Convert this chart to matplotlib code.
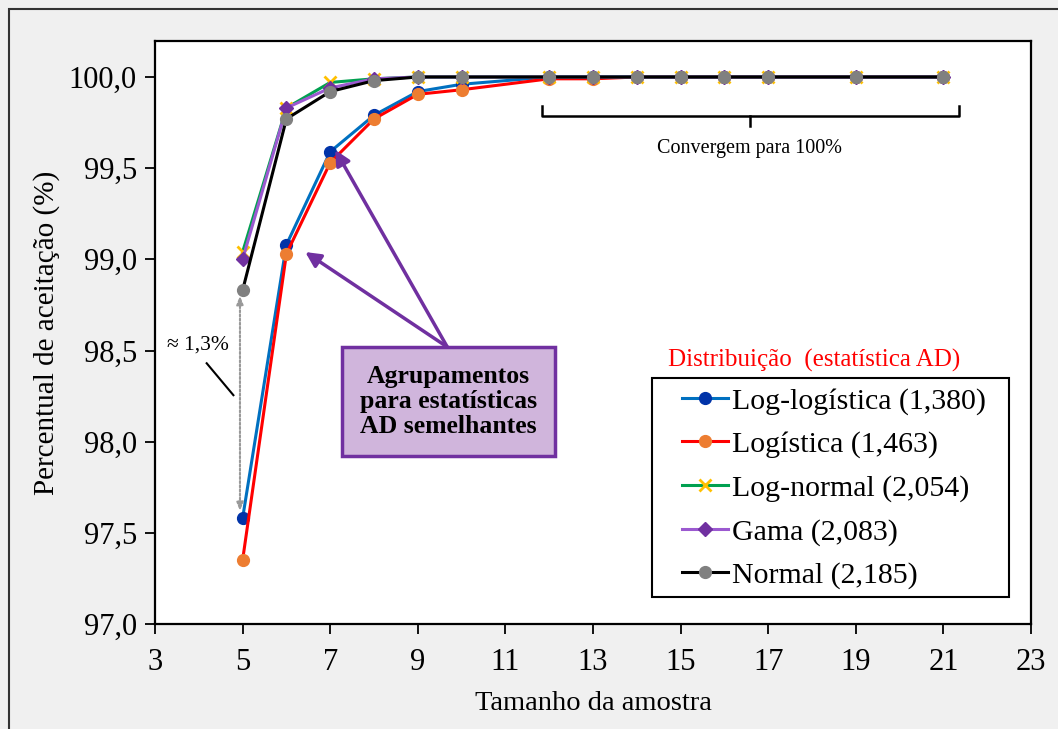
import matplotlib
matplotlib.use("Agg")
import matplotlib.pyplot as plt
from matplotlib.patches import Rectangle

plt.rcParams["font.family"] = ["Liberation Serif", "DejaVu Serif"]

# data
sample_size = [5, 6, 7, 8, 9, 10, 12, 13, 14, 15, 16, 17, 19, 21]
log_logistica = [97.58, 99.08, 99.59, 99.79, 99.92, 99.96, 100.0, 100.0, 100.0, 100.0, 100.0, 100.0, 100.0, 100.0]
logistica = [97.35, 99.03, 99.53, 99.77, 99.905, 99.93, 99.99, 99.99, 100.0, 100.0, 100.0, 100.0, 100.0, 100.0]
log_normal = [99.04, 99.83, 99.97, 99.99, 100.0, 100.0, 100.0, 100.0, 100.0, 100.0, 100.0, 100.0, 100.0, 100.0]
gama = [99.00, 99.83, 99.94, 99.99, 100.0, 100.0, 100.0, 100.0, 100.0, 100.0, 100.0, 100.0, 100.0, 100.0]
normal = [98.83, 99.77, 99.92, 99.98, 100.0, 100.0, 100.0, 100.0, 100.0, 100.0, 100.0, 100.0, 100.0, 100.0]

series_labels = ["Log-logística (1,380)", "Logística (1,463)", "Log-normal (2,054)",
                 "Gama (2,083)", "Normal (2,185)"]

x_ticks = [3, 5, 7, 9, 11, 13, 15, 17, 19, 21, 23]
y_ticks = [97.0, 97.5, 98.0, 98.5, 99.0, 99.5, 100.0]
y_ticklabels = ["97,0", "97,5", "98,0", "98,5", "99,0", "99,5", "100,0"]

fig = plt.figure(figsize=(10.58, 7.29), dpi=100, facecolor="#F0F0F0")
fig.subplots_adjust(left=0.1465, right=0.9745, top=0.9438, bottom=0.144)
ax = fig.add_subplot(1, 1, 1)

# outer frame of the figure
fig.patches.append(Rectangle((9 / 1058, -0.05), 1.2, 1.05 - 9 / 729, transform=fig.transFigure,
                             fill=False, edgecolor="#333333", lw=1.5, zorder=0))

styles = [
    (log_logistica, "#0070C0", "o", "#0033A8", 8.5),
    (logistica, "#FF0000", "o", "#ED7D31", 8.5),
    (log_normal, "#00A050", "x", "#FFC000", 9),
    (gama, "#9B59D0", "D", "#7030A0", 7),
    (normal, "#000000", "o", "#808080", 8.5),
]
for (vals, lc, mk, mc, ms), lab in zip(styles, series_labels):
    ax.plot(sample_size, vals, color=lc, lw=2.2, marker=mk, markersize=ms,
            markerfacecolor=mc, markeredgecolor=mc, markeredgewidth=2 if mk == "x" else 1,
            label=lab)

ax.set_xlim(3, 23)
ax.set_ylim(97.0, 100.0 + 36 / 182.3 * 0.5 * 2)
ax.set_xticks(x_ticks)
ax.set_yticks(y_ticks)
ax.set_yticklabels(y_ticklabels)
ax.tick_params(direction="out", length=7, width=1.3, labelsize=22, pad=6)
ax.tick_params(axis="x", pad=10)
for s in ax.spines.values():
    s.set_linewidth(1.6)

ax.set_xlabel("Tamanho da amostra", fontsize=20.5, labelpad=10)
ax.set_ylabel("Percentual de aceitação (%)", fontsize=21, labelpad=6)

# legend (frame drawn separately so the padding matches)
ax.add_patch(Rectangle((0.5669, 0.0463), 0.9749 - 0.5669, 0.422 - 0.0463, transform=ax.transAxes,
                       facecolor="white", edgecolor="black", lw=1.5, zorder=7))
leg = ax.legend(loc="center", bbox_to_anchor=(0.775, 0.2328), fontsize=21.5, frameon=False,
                handlelength=1.55, handletextpad=0.15, labelspacing=0.55, borderpad=0,
                borderaxespad=0)
leg.set_zorder(8)
ax.text(0.7520, 0.4528, "Distribuição  (estatística AD)", transform=ax.transAxes,
        color="#FF0000", fontsize=18, ha="center", va="center")

# bracket "Convergem para 100%"
ax.plot([11.84, 11.84, 21.35, 21.35], [99.843, 99.786, 99.786, 99.843], color="black", lw=1.8)
ax.plot([16.58, 16.58], [99.786, 99.731], color="black", lw=1.8)
ax.text(16.58, 99.61, "Convergem para 100%", fontsize=14.5, ha="center", va="center")

# grouping annotation
ax.add_patch(Rectangle((7.267, 97.92), 12.14 - 7.267, 98.519 - 97.92,
                       facecolor="#D0B5DC", edgecolor="#7030A0", lw=2.5, zorder=5))
ax.text((7.267 + 12.14) / 2, (97.92 + 98.519) / 2, "Agrupamentos\npara estatísticas\nAD semelhantes",
        fontsize=18.5, fontweight="bold", ha="center", va="center", linespacing=1.1, zorder=6)
for tip in [(6.43, 99.04), (7.114, 99.60)]:
    ax.annotate("", xy=tip, xytext=(9.674, 98.519),
                arrowprops=dict(arrowstyle="-|>,head_length=0.9,head_width=0.45",
                                color="#7030A0", lw=2.5, shrinkA=0, shrinkB=0), zorder=6)

# difference arrow at n = 5
ax.annotate("", xy=(4.94, 98.80), xytext=(4.94, 97.62),
            arrowprops=dict(arrowstyle="<|-|>,head_length=0.5,head_width=0.2", color="#999999",
                            lw=1.5, linestyle=(0, (1, 1)), shrinkA=0, shrinkB=0))
ax.text(3.98, 98.53, "≈ 1,3%", fontsize=15.5, ha="center", va="center")
ax.plot([4.18, 4.79], [98.43, 98.255], color="black", lw=1.5)

fig.savefig("out.png", dpi=100, facecolor=fig.get_facecolor())
